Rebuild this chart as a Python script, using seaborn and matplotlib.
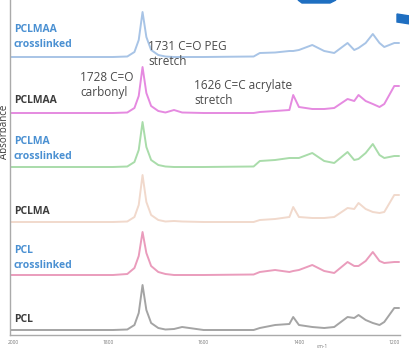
import numpy as np
import pandas as pd
import matplotlib
matplotlib.use("Agg")
import matplotlib.pyplot as plt
import seaborn as sns
from matplotlib.patches import Polygon

# wavenumber grid (cm-1) shared by all spectra
wavenumber = [2005, 1900, 1790, 1760, 1745, 1736, 1728, 1720, 1710, 1695, 1680,
              1662, 1645, 1600, 1495, 1482, 1450, 1420, 1412, 1400, 1372, 1347,
              1326, 1298, 1284, 1275, 1260, 1245, 1231, 1221, 1200, 1190]

# absorbance above each trace's own baseline (arbitrary units)
pclmaa_xl = [0, 0, 0, 0.5, 5, 17, 45, 20, 7, 2, 0.5, 0, 0, 0, 0.5, 4, 4.5, 6, 6,
             7, 12, 6, 4, 14, 7, 9, 14, 23, 14, 10, 14, 14]
pclmaa = [0, 0, 0, 0.5, 5, 17, 46, 20, 7, 2, 0.5, 3, 0.5, 0, 0, 1, 2, 3, 18, 6,
          4, 4, 5, 14, 12, 18, 12, 9, 6, 9, 27, 27]
pclma_xl = [0, 0, 0, 0.5, 5, 17, 45, 20, 7, 2, 0.5, 0, 0, 0, 0.5, 6, 7, 9, 9, 9,
            14, 6, 4, 15, 7, 8, 14, 23, 12, 9, 11, 11]
pclma = [0, 0, 0, 0.5, 5, 17, 47, 20, 7, 2, 0.5, 1, 0.5, 0, 0, 2, 3, 5, 15, 5,
         4, 4, 5, 14, 13, 19, 13, 10, 9, 10, 27, 27]
pcl_xl = [0, 0, 0, 1, 7, 19, 43, 22, 9, 3, 1, 0, 0, 0, 0.5, 3, 5, 3, 4, 5, 10,
          4, 2, 13, 9, 9, 14, 23, 14, 12, 13, 13]
pcl = [0, 0, 0, 0.5, 5, 17, 45, 20, 7, 2, 0.5, 1, 3, 0, 0, 2, 5, 6, 13, 5, 3,
       2, 3, 13, 12, 15, 10, 7, 5, 8, 22, 22]

names = ["PCLMAA\ncrosslinked", "PCLMAA", "PCLMA\ncrosslinked", "PCLMA",
         "PCL\ncrosslinked", "PCL"]
spectra = [pclmaa_xl, pclmaa, pclma_xl, pclma, pcl_xl, pcl]

# stacking offsets and colours
offsets = [278, 222, 168, 113, 60, 5]
colors = ["#a8c4e6", "#e58ae0", "#a9dcaa", "#f1d9cc", "#ea9cbc", "#a4a4a4"]
label_colors = ["#4a90d2", "#3c3c3c", "#4a90d2", "#3c3c3c", "#4a90d2", "#3c3c3c"]
label_y = [37, 100, 149, 212, 258, 320]

W, H = 410, 352
sns.set_style("white")
plt.rcParams["font.family"] = ["Open Sans", "DejaVu Sans"]

fig = plt.figure(figsize=(W / 100, H / 100), dpi=100)
ax = fig.add_axes([10 / W, 17 / H, 390 / W, 335 / H])

for vals, off, col in zip(spectra, offsets, colors):
    sns.lineplot(x=wavenumber, y=np.array(vals) + off, ax=ax, color=col,
                 linewidth=1.4, estimator=None, sort=False)

ax.set_xlim(2006, 1188)
ax.set_ylim(0, 335)
ax.set_xticks([2000, 1800, 1600, 1400, 1200])
ax.set_xticklabels(["2000", "1800", "1600", "1400", "1200"], fontsize=3.5,
                   color="#777777")
ax.set_yticks(np.arange(0, 335, 6))
ax.set_yticklabels([])
ax.tick_params(axis="y", length=1.5, width=0.6, color="#aaaaaa", pad=0)
ax.tick_params(axis="x", length=2, width=0.6, color="#aaaaaa", pad=1.5)
for s in ["top", "right"]:
    ax.spines[s].set_visible(False)
for s in ["left", "bottom"]:
    ax.spines[s].set_color("#aaaaaa")
    ax.spines[s].set_linewidth(1.0)


def px(x, y):
    return x / W, 1 - y / H


for name, y, c in zip(names, label_y, label_colors):
    fig.text(*px(14, y), name, color=c, fontsize=7.5, fontweight="bold",
             va="center", ha="left", linespacing=1.5)

ann = dict(color="#4a4a4a", fontsize=8.5, va="center", ha="left",
           linespacing=1.25)
fig.text(*px(148, 54), "1731 C=O PEG\nstretch", **ann)
fig.text(*px(80, 85), "1728 C=O\ncarbonyl", **ann)
fig.text(*px(194, 93), "1626 C=C acrylate\nstretch", **ann)

fig.text(*px(5, 132), "Absorbance", rotation=90, fontsize=7, color="#3c3c3c",
         va="center", ha="center")
fig.text(*px(322, 347), "cm-1", fontsize=3.5, color="#777777",
         va="center", ha="center")

# bits of the neighbouring graphic visible at the top right
fig.patches.append(Polygon([px(298, 0), px(336, 0), px(330, 3), px(302, 3)],
                           closed=True, color="#1f6fc1",
                           transform=fig.transFigure))
fig.patches.append(Polygon([px(397, 14), px(410, 16), px(410, 24), px(397, 22)],
                           closed=True, color="#1f6fc1",
                           transform=fig.transFigure))

fig.savefig("out.png", dpi=100)
